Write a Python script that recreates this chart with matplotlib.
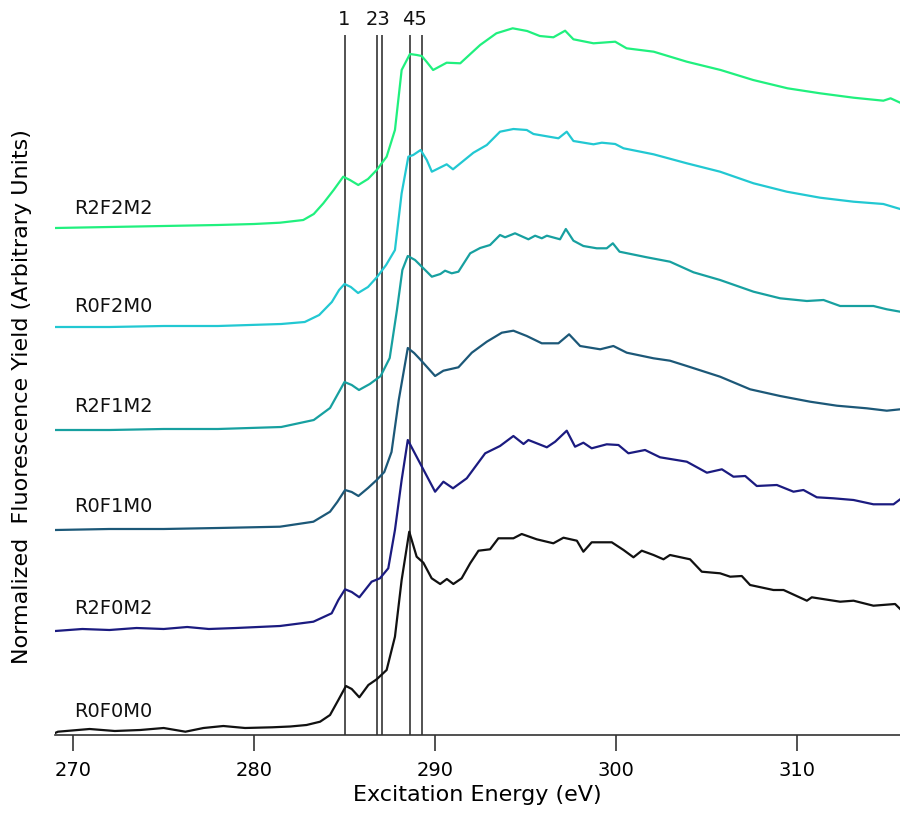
import matplotlib
matplotlib.use("Agg")
import matplotlib.pyplot as plt

# ---------------- spectra (stacked, arbitrary units) ----------------
e_r0f0m0 = [269.0, 269.15, 270.9, 272.3, 273.7, 275.0, 276.2, 277.2, 278.3, 279.5, 281.0, 282.0, 282.9,
            283.65, 284.2, 284.66, 285.08, 285.4, 285.82, 286.32, 286.78, 287.33, 287.79, 288.16,
            288.58, 288.99, 289.36, 289.82, 290.29, 290.66, 291.02, 291.48, 291.95, 292.41, 293.05,
            293.51, 294.34, 294.8, 295.63, 296.55, 297.11, 297.85, 298.21, 298.67, 299.78, 300.43,
            300.98, 301.44, 302.09, 302.64, 303.0, 304.11, 304.76, 305.77, 306.33, 306.97, 307.43,
            308.72, 309.28, 310.57, 310.84, 312.41, 313.15, 314.25, 315.45, 315.73]
y_r0f0m0 = [0.02, 0.033, 0.06, 0.04, 0.05, 0.07, 0.033, 0.07, 0.09, 0.07, 0.077, 0.085, 0.10,
            0.133, 0.20, 0.35, 0.49, 0.46, 0.377, 0.50, 0.557, 0.65, 0.983, 1.55,
            2.033, 1.783, 1.723, 1.567, 1.51, 1.56, 1.51, 1.567, 1.717, 1.843, 1.857,
            1.967, 1.967, 2.01, 1.957, 1.917, 1.973, 1.943, 1.833, 1.927, 1.927, 1.85,
            1.777, 1.843, 1.80, 1.757, 1.80, 1.757, 1.633, 1.617, 1.583, 1.59, 1.50,
            1.45, 1.45, 1.343, 1.377, 1.333, 1.343, 1.293, 1.31, 1.26]

e_r2f0m2 = [269.0, 270.5, 272.0, 273.5, 275.0, 276.3, 277.5, 279.0, 281.43, 283.28, 284.29, 284.66,
            285.03, 285.4, 285.82, 286.5, 286.96, 287.42, 287.79, 288.16, 288.5, 288.85, 289.18,
            290.01, 290.47, 291.0, 291.76, 292.78, 293.6, 294.34, 294.9, 295.17, 296.19, 296.65,
            297.29, 297.75, 298.21, 298.67, 299.5, 300.15, 300.7, 301.62, 302.45, 303.93, 305.04,
            305.87, 306.51, 307.16, 307.8, 308.91, 309.83, 310.38, 311.12, 312.04, 313.15, 314.25,
            315.36, 315.73]
y_r2f0m2 = [1.04, 1.06, 1.05, 1.07, 1.06, 1.08, 1.06, 1.07, 1.09, 1.133, 1.217, 1.35,
            1.457, 1.43, 1.377, 1.533, 1.567, 1.667, 2.05, 2.55, 2.95, 2.83, 2.717,
            2.433, 2.533, 2.467, 2.567, 2.817, 2.89, 2.99, 2.91, 2.95, 2.877, 2.933,
            3.043, 2.883, 2.923, 2.867, 2.907, 2.90, 2.817, 2.85, 2.777, 2.733, 2.623,
            2.657, 2.583, 2.59, 2.49, 2.50, 2.433, 2.45, 2.377, 2.367, 2.35, 2.307,
            2.307, 2.357]

e_r0f1m0 = [269.0, 272.0, 275.0, 278.0, 281.43, 283.28, 284.2, 284.6, 285.03, 285.4, 285.77, 286.3,
            286.78, 287.2, 287.6, 288.0, 288.5, 288.85, 289.18, 290.01, 290.47, 291.3, 292.04,
            292.87, 293.7, 294.34, 295.08, 295.91, 296.83, 297.42, 298.03, 299.14, 299.87, 300.61,
            302.09, 303.0, 303.93, 305.77, 307.43, 309.09, 310.75, 312.23, 313.88, 314.99, 315.73]
y_r0f1m0 = [2.05, 2.06, 2.06, 2.07, 2.083, 2.133, 2.233, 2.33, 2.45, 2.43, 2.39, 2.47,
            2.55, 2.63, 2.83, 3.35, 3.87, 3.82, 3.757, 3.59, 3.643, 3.677, 3.823,
            3.933, 4.023, 4.043, 3.99, 3.917, 3.917, 4.007, 3.89, 3.857, 3.89, 3.823,
            3.767, 3.743, 3.69, 3.583, 3.457, 3.39, 3.333, 3.293, 3.267, 3.243, 3.257]

e_r2f1m2 = [269.0, 272.0, 275.0, 278.0, 281.5, 283.3, 284.2, 284.6, 285.0, 285.4, 285.8, 286.4,
            287.0, 287.5, 287.9, 288.2, 288.5, 288.9, 289.18, 289.83, 290.3, 290.56, 290.93,
            291.3, 291.95, 292.5, 293.05, 293.6, 293.88, 294.43, 295.17, 295.54, 295.91, 296.19,
            296.92, 297.24, 297.66, 298.21, 298.95, 299.5, 299.84, 300.21, 301.72, 303.0, 304.3,
            305.77, 307.62, 309.09, 310.57, 311.49, 312.41, 314.25, 314.99, 315.73]
y_r2f1m2 = [3.05, 3.05, 3.06, 3.06, 3.08, 3.15, 3.27, 3.40, 3.53, 3.50, 3.45, 3.51,
            3.59, 3.77, 4.25, 4.65, 4.79, 4.75, 4.70, 4.583, 4.61, 4.643, 4.617,
            4.633, 4.817, 4.87, 4.90, 5.00, 4.977, 5.017, 4.957, 4.993, 4.967, 4.993,
            4.957, 5.06, 4.943, 4.89, 4.867, 4.867, 4.917, 4.833, 4.777, 4.733, 4.627,
            4.55, 4.433, 4.367, 4.34, 4.35, 4.29, 4.29, 4.257, 4.233]

e_r0f2m0 = [269.0, 272.0, 275.0, 278.0, 281.5, 282.8, 283.6, 284.3, 284.7, 285.0, 285.35, 285.75,
            286.3, 286.8, 287.3, 287.79, 288.16, 288.53, 288.8, 289.21, 289.55, 289.83, 290.65,
            291.0, 292.13, 292.87, 293.6, 294.34, 295.08, 295.45, 296.83, 297.29, 297.66, 298.77,
            299.23, 299.97, 300.43, 302.09, 303.93, 305.77, 307.62, 309.46, 311.3, 313.15, 314.8,
            315.73]
y_r0f2m0 = [4.08, 4.08, 4.09, 4.09, 4.11, 4.13, 4.20, 4.33, 4.45, 4.51, 4.48, 4.42,
            4.48, 4.58, 4.70, 4.85, 5.417, 5.783, 5.80, 5.85, 5.75, 5.633, 5.707,
            5.657, 5.823, 5.90, 6.033, 6.06, 6.05, 6.01, 5.967, 6.033, 5.94, 5.907,
            5.923, 5.91, 5.867, 5.807, 5.717, 5.633, 5.517, 5.433, 5.373, 5.333, 5.31,
            5.26]

e_r2f2m2 = [269.0, 272.0, 275.0, 278.0, 280.0, 281.43, 282.72, 283.3, 283.83, 284.4, 284.93, 285.3,
            285.76, 286.3, 286.78, 287.33, 287.79, 288.16, 288.62, 289.0, 289.27, 289.55, 289.9,
            290.65, 291.4, 292.5, 293.4, 294.3, 295.1, 295.8, 296.55, 297.2, 297.66, 298.77,
            299.97, 300.6, 302.1, 303.93, 305.8, 307.6, 309.5, 311.3, 313.15, 314.8, 315.2, 315.73]
y_r2f2m2 = [5.07, 5.08, 5.09, 5.10, 5.11, 5.123, 5.15, 5.21, 5.317, 5.45, 5.583, 5.55,
            5.50, 5.56, 5.65, 5.783, 6.05, 6.65, 6.81, 6.80, 6.79, 6.73, 6.65,
            6.723, 6.717, 6.90, 7.017, 7.067, 7.04, 6.99, 6.977, 7.043, 6.957, 6.917,
            6.933, 6.867, 6.833, 6.733, 6.65, 6.55, 6.467, 6.417, 6.373, 6.343, 6.367, 6.323]

names   = ["R0F0M0", "R2F0M2", "R0F1M0", "R2F1M2", "R0F2M0", "R2F2M2"]
energy  = [e_r0f0m0, e_r2f0m2, e_r0f1m0, e_r2f1m2, e_r0f2m0, e_r2f2m2]
signal  = [y_r0f0m0, y_r2f0m2, y_r0f1m0, y_r2f1m2, y_r0f2m0, y_r2f2m2]
label_y = [0.24, 1.26, 2.28, 3.28, 4.28, 5.26]
colors  = ["#111111", "#1b1b80", "#1c5878", "#17a0a0", "#22c8d2", "#20f07e"]

# peak markers (lines) and their number labels (2/3 and 4/5 share a label)
peak_e       = [285.0, 286.8, 287.1, 288.6, 289.3]
peak_label   = ["1", "23", "45"]
peak_label_e = [285.0, 286.88, 288.87]

# ---------------- figure ----------------
fig = plt.figure(figsize=(9, 8.13), dpi=100)
ax = fig.add_axes([55 / 900, 78 / 813, 845 / 900, 710 / 813])

for e, s, c, n, ly in zip(energy, signal, colors, names, label_y):
    ax.plot(e, s, color=c, lw=1.6)
    ax.text(270.05, ly, n, fontsize=14, color="#111111", va="center", ha="left")

ax.vlines(peak_e, 0, 7.0, color="#444444", lw=1.3, zorder=0)
for pe, pl in zip(peak_label_e, peak_label):
    ax.text(pe, 7.06, pl, fontsize=14, ha="center", va="bottom", color="#111111")

ax.set_xlim(268.99, 315.72)
ax.set_ylim(0, 7.1)

for side in ["left", "top", "right"]:
    ax.spines[side].set_visible(False)
ax.spines["bottom"].set_color("#333333")
ax.spines["bottom"].set_linewidth(1.2)
ax.set_yticks([])
ax.set_xticks([270, 280, 290, 300, 310])
ax.tick_params(axis="x", direction="out", length=11.5, width=1.2, pad=7,
               labelsize=14, color="#333333")

ax.set_xlabel("Excitation Energy (eV)", fontsize=16, labelpad=4)
fig.text(22 / 900, 1 - 397 / 813, "Normalized  Fluorescence Yield (Arbitrary Units)",
         rotation=90, fontsize=16, ha="center", va="center")

fig.savefig("out.png", dpi=100)
